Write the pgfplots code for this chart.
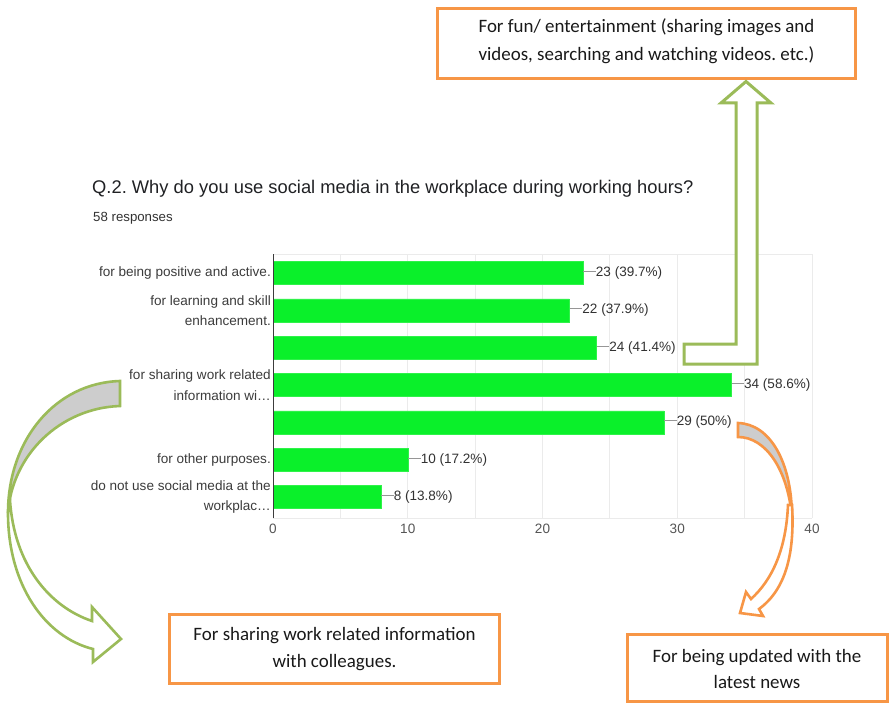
\documentclass[border=0pt]{standalone}
\usepackage{pgfplots}
\pgfplotsset{compat=1.18}
\usepackage{fontspec}
\setmainfont{Liberation Sans}
\newfontfamily\calibri{Carlito}
\frenchspacing
\definecolor{bargreen}{RGB}{10,240,42}
\definecolor{gridgray}{RGB}{235,235,235}
\definecolor{axisdark}{RGB}{60,60,60}
\definecolor{ticktext}{RGB}{85,85,85}
\definecolor{valtext}{RGB}{50,50,50}
\definecolor{leader}{RGB}{150,150,150}
\definecolor{titlecol}{RGB}{32,33,36}
\definecolor{boxorange}{RGB}{247,150,70}
\definecolor{arrgreen}{RGB}{155,187,89}
\definecolor{arrgray}{RGB}{205,205,205}
\begin{document}
\frenchspacing
\begin{tikzpicture}
\begin{scope}[x=1bp,y=-1bp]
\path[use as bounding box, fill=white] (0,0) rectangle (890,703);
\end{scope}
\begin{axis}[
  at={(273bp,-518bp)}, anchor=south west,
  scale only axis, width=539bp, height=264bp,
  xbar, bar width=23bp,
  xmin=0, xmax=40, ymin=-0.51, ymax=6.56, y dir=reverse,
  xtick={0,10,20,30,40}, minor xtick={5,15,25,35},
  xmajorgrids, xminorgrids,
  major grid style={draw=gridgray, line width=0.9bp},
  minor grid style={draw=gridgray, line width=0.9bp},
  ytick={0,1,2,3,4,5,6},
  yticklabels={{for being positive and active.},{for learning and skill\\enhancement.},{},{for sharing work related\\information wi\dots},{},{for other purposes.},{do not use social media at the\\workplac\dots}},
  major tick length=0, minor tick length=0,
  axis line style={draw=none},
  /pgf/number format/assume math mode=true,
  tick label style={font=\fontsize{13.6}{20.5}\selectfont},
  xticklabel style={text=ticktext, yshift=-3bp},
  yticklabel style={align=right, inner xsep=0pt, xshift=-2bp, text=axisdark},
  point meta=explicit symbolic,
  nodes near coords={\textcolor{leader}{\rule[0.34em]{12.5bp}{0.9bp}}\pgfplotspointmeta},
  nodes near coords style={anchor=west, inner sep=0pt, xshift=0.3bp, font=\fontsize{13.6}{16}\selectfont, text=valtext},
  clip=false,
]
\addplot[fill=bargreen, draw=bargreen!85!white] coordinates {
(23,0) [23 (39.7\%)]
(22,1) [22 (37.9\%)]
(24,2) [24 (41.4\%)]
(34,3) [34 (58.6\%)]
(29,4) [29 (50\%)]
(10,5) [10 (17.2\%)]
(8,6) [8 (13.8\%)]
};
\draw[gridgray, line width=0.9bp] (axis cs:0,-0.51) -- (axis cs:40,-0.51);
\draw[gridgray, line width=0.9bp] (axis cs:0,6.56) -- (axis cs:40,6.56);
\draw[axisdark, line width=1bp] (axis cs:0,-0.51) -- (axis cs:0,6.56);
\end{axis}
\begin{scope}[x=1bp,y=-1bp]
% title
\node[anchor=west, inner sep=0pt, font=\fontsize{18.4}{20}\selectfont, text=titlecol] at (92,189) {Q.2. Why do you use social media in the workplace during working hours?};
\node[anchor=west, inner sep=0pt, font=\fontsize{13.3}{15}\selectfont, text=valtext] at (93,218) {58 responses};
% top box
\draw[boxorange, line width=3bp, fill=white] (437.5,8.5) rectangle (855.5,78.5);
\node[font=\calibri\fontsize{19}{28}\selectfont, align=center, text=black!90] at (646.5,41.5) {For fun/ entertainment (sharing images and\\videos, searching and watching videos. etc.)};
% green bent arrow
\draw[arrgreen, line width=3bp, fill=white, line join=miter] (684,344) -- (736,344) -- (736,103) -- (721,103) -- (746,81.5) -- (771,103) -- (757,103) -- (757,364) -- (684,364) -- cycle;
% green curved arrow (left)
\draw[arrgreen, line width=2.6bp, fill=arrgray] (120,381) .. controls (55,383) and (8,440) .. (8,513) .. controls (12,455) and (60,408) .. (120,406) -- cycle;
\draw[arrgreen, line width=2.6bp, fill=white, line join=miter] (8,513) .. controls (8,585) and (45,637) .. (93,649) -- (93,662) -- (121,639) -- (92,607) -- (92,621) .. controls (50,607) and (14,565) .. (10,500) -- cycle;
% orange curved arrow (right)
\draw[boxorange, line width=2.6bp, fill=arrgray] (738,423) .. controls (770,424) and (792,462) .. (792,518) .. controls (788,470) and (766,437) .. (738,437) -- cycle;
\draw[boxorange, line width=2.6bp, fill=white, line join=miter] (792,505) .. controls (795,555) and (785,590) .. (759,609) -- (763,616) -- (740,613) -- (746,592) -- (751,599) .. controls (772,580) and (786,550) .. (788,505) -- cycle;
% bottom boxes
\draw[boxorange, line width=3bp, fill=white] (169.5,614.5) rectangle (499.5,683.5);
\node[font=\calibri\fontsize{19}{27}\selectfont, align=center, text=black!90] at (334.5,649) {For sharing work related information\\with colleagues.};
\draw[boxorange, line width=3bp, fill=white] (627.5,634.5) rectangle (887,701.5);
\node[font=\calibri\fontsize{19}{27}\selectfont, align=center, text=black!90] at (757,669) {For being updated with the\\latest news};
\end{scope}
\end{tikzpicture}
\end{document}
